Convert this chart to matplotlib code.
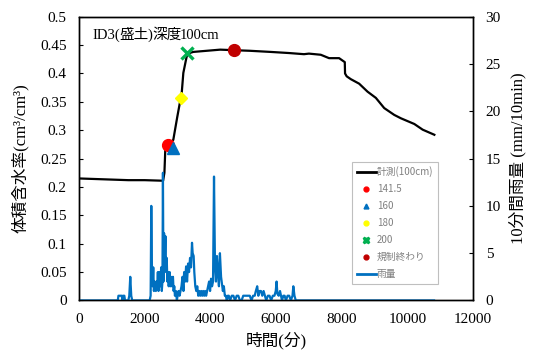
import matplotlib
matplotlib.use("Agg")
import matplotlib.pyplot as plt
from matplotlib.lines import Line2D
from matplotlib.transforms import offset_copy

# ---- data ----
sm_t = [0, 500, 1000, 1500, 2000, 2560, 2600, 2626, 2720, 2870, 2990, 3085, 3115,
        3176, 3260, 3300, 3480, 4300, 4730, 5200, 5830, 6400, 6850, 7000, 7360,
        7613, 7919, 8092, 8100, 8150, 8275, 8530, 8784, 9038, 9293, 9598, 9802,
        10209, 10463, 10819]
sm_v = [0.215, 0.214, 0.213, 0.212, 0.212, 0.211, 0.225, 0.265, 0.274, 0.283,
        0.323, 0.353, 0.357, 0.401, 0.425, 0.435, 0.438, 0.442, 0.441, 0.440,
        0.438, 0.436, 0.434, 0.435, 0.433, 0.427, 0.427, 0.420, 0.400, 0.395,
        0.390, 0.382, 0.368, 0.357, 0.339, 0.327, 0.321, 0.311, 0.301, 0.292]

rain_t = [0, 1180, 1200, 1250, 1300, 1320, 1340, 1380, 1400, 1500, 1530, 1560, 1590,
          1620, 2150, 2180, 2200, 2220, 2240, 2260, 2280, 2300, 2320, 2340, 2360,
          2380, 2400, 2420, 2440, 2460, 2480, 2500, 2520, 2540, 2555, 2570, 2590,
          2610, 2630, 2650, 2670, 2690, 2710, 2730, 2760, 2780, 2800, 2830, 2860,
          2880, 2900, 2920, 2950, 2980, 3000, 3030, 3060, 3090, 3120, 3150, 3180,
          3200, 3230, 3260, 3290, 3320, 3350, 3380, 3410, 3440, 3460, 3490, 3510,
          3540, 3570, 3600, 3630, 3660, 3690, 3720, 3750, 3780, 3810, 3840, 3870,
          3900, 3930, 3960, 3990, 4020, 4050, 4080, 4110, 4140, 4170, 4200, 4230,
          4260, 4290, 4325, 4350, 4380, 4410, 4440, 4470, 4500, 4530, 4560, 4600,
          4650, 4700, 4750, 4800, 4850, 4900, 4950, 5000, 5050, 5100, 5150, 5200,
          5250, 5300, 5350, 5380, 5425, 5460, 5500, 5540, 5580, 5620, 5660, 5700,
          5750, 5800, 5850, 5900, 5950, 5990, 6015, 6040, 6080, 6120, 6150, 6180,
          6220, 6260, 6300, 6350, 6400, 6450, 6500, 6525, 6560, 6600, 10810]
rain_v = [0, 0, 0.5, 0.5, 0.5, 0, 0.5, 0.5, 0, 0, 0.5, 2.5, 0.5,
          0, 0, 0.5, 10, 3.5, 1.5, 3.5, 1, 2, 1.5, 1, 2,
          1.5, 3, 1, 3, 2, 1.5, 3.5, 1, 2, 13.5, 2, 7.1,
          4, 6.8, 3, 4.5, 2, 3, 1.5, 3, 1.5, 2.5, 1.5, 2.5,
          1, 1.5, 0.5, 1, 0, 0.5, 1, 0.5, 1, 1.5, 2.5, 1,
          3, 2, 3.6, 2, 3.9, 3, 4.5, 3.5, 6.1, 5, 4.7, 3,
          1.5, 1, 1.5, 0.5, 1, 0.5, 1, 0.5, 1, 0.5, 1, 0.5,
          1, 1.5, 2, 1, 2.3, 1.5, 2, 13.1, 3.6, 2, 4.7, 3,
          1.5, 5, 2.5, 1.8, 1, 1.5, 0.5, 0.5, 0, 0.5, 0.5, 0,
          0.5, 0.5, 0, 0.5, 0.5, 0, 0, 0.5, 0.5, 0.5, 0.5, 0.5,
          0, 0.5, 0.5, 0.95, 1.5, 0.5, 1, 1, 0.5, 1, 0.5, 0,
          0.5, 0.5, 0, 0.5, 0.5, 1, 2.0, 0.7, 0.5, 1, 0.5, 0,
          0.5, 0.5, 0, 0.5, 0.5, 0, 0.5, 1.5, 0.5, 0, 0]

marker_labels = ["141.5", "160", "180", "200", "規制終わり"]
marker_t = [2718, 2870, 3115, 3298, 4733]
marker_v = [0.274, 0.269, 0.357, 0.436, 0.441]

title_parts = ["ID3(", "盛土", ")", "深度", "100cm"]

xticks = [0, 2000, 4000, 6000, 8000, 10000, 12000]
yticks_l = [0, 0.05, 0.1, 0.15, 0.2, 0.25, 0.3, 0.35, 0.4, 0.45, 0.5]
ytick_labels_l = ["0", "0.05", "0.1", "0.15", "0.2", "0.25", "0.3", "0.35", "0.4", "0.45", "0.5"]
yticks_r = [0, 5, 10, 15, 20, 25, 30]

# ---- style ----
SERIF = ['Liberation Serif', 'Noto Sans CJK JP']
SANS = ['Noto Sans CJK JP', 'DejaVu Sans']
CJK = ['Noto Sans CJK JP']
plt.rcParams['font.family'] = SERIF

fig = plt.figure(figsize=(5.34, 3.56), dpi=100)
ax = fig.add_axes([0.148, 0.156, 0.738, 0.797])
ax2 = ax.twinx()

ax.plot(sm_t, sm_v, color='black', lw=1.6, zorder=3)
styles = [
    dict(marker='o', color='#ff0000', ms=8.5),
    dict(marker='^', color='#0070c0', ms=8.5),
    dict(marker='D', color='#ffff00', ms=6.0),
    dict(marker='x', color='#00b050', ms=9, mew=2.4),
    dict(marker='o', color='#c00000', ms=8.5),
]
for t, v, st in zip(marker_t, marker_v, styles):
    ax.plot([t], [v], linestyle='none', zorder=4, **st)

ax2.plot(rain_t, rain_v, color='#0070c0', lw=1.6, zorder=2)

ax.set_xlim(0, 12000)
ax.set_ylim(0, 0.5)
ax2.set_ylim(0, 30)
ax.set_xticks(xticks)
ax.set_xticklabels([str(x) for x in xticks])
ax.set_yticks(yticks_l)
ax.set_yticklabels(ytick_labels_l)
ax2.set_yticks(yticks_r)
ax2.set_yticklabels([str(y) for y in yticks_r])

ax.tick_params(axis='x', length=0, pad=9, labelsize=11)
ax.tick_params(axis='y', direction='in', length=3, pad=9, labelsize=11)
ax2.tick_params(axis='y', direction='in', length=3, pad=9, labelsize=11)

for a in (ax, ax2):
    for s in a.spines.values():
        s.set_linewidth(1.0)
        s.set_color('black')

ax.set_xlabel("時間(分)", fontsize=12, labelpad=4)
ax.set_ylabel("体積含水率(cm³/cm³)", fontsize=12, labelpad=8)
ax2.set_ylabel("10分間雨量 (mm/10min)", fontsize=12, labelpad=6)

# title drawn piece by piece (serif Latin, CJK glyphs from Noto)
renderer = fig.canvas.get_renderer()
trans = ax.transAxes
xoff = 0.0
for i, part in enumerate(title_parts):
    is_cjk = i in (1, 3)
    fam = CJK if is_cjk else ['Liberation Serif']
    tt = offset_copy(trans, fig=fig, x=xoff, y=0, units='dots')
    txt = ax.text(0.033, 0.935, part, transform=tt, fontsize=10.5,
                  family=fam, ha='left', va='center')
    bb = txt.get_window_extent(renderer=renderer)
    xoff += bb.width - (1.5 if is_cjk else 0.0)

handles = [Line2D([], [], color='black', lw=2)]
leg_styles = [
    dict(marker='o', color='#ff0000', ms=3.5),
    dict(marker='^', color='#0070c0', ms=3.5),
    dict(marker='o', color='#ffff00', ms=3.5),
    dict(marker='X', color='#00b050', ms=4.5),
    dict(marker='o', color='#c00000', ms=3.5),
]
for st in leg_styles:
    handles.append(Line2D([], [], linestyle='none', **st))
handles.append(Line2D([], [], color='#0070c0', lw=2))
labels = ["計測(100cm)"] + marker_labels + ["雨量"]

leg = ax2.legend(handles, labels, loc='upper left', bbox_to_anchor=(0.693, 0.488),
                 frameon=True, fancybox=False, framealpha=1, edgecolor='#bfbfbf',
                 prop={'family': SANS, 'size': 7}, labelcolor='#808080',
                 handlelength=2.0, handletextpad=0.1, labelspacing=0.72,
                 borderpad=0.45, borderaxespad=0)
leg.get_frame().set_linewidth(0.8)

fig.savefig("out.png", dpi=100)
